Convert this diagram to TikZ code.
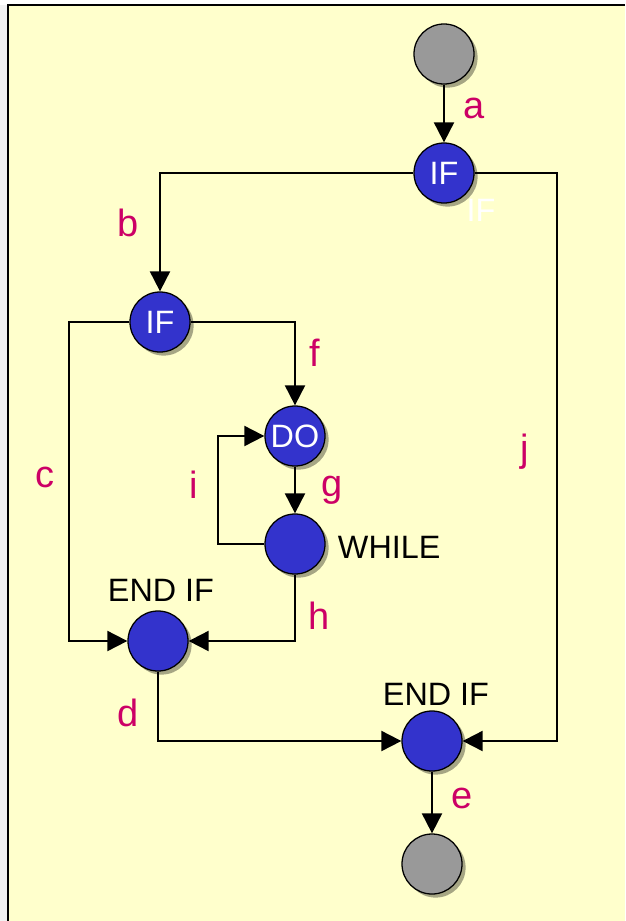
\documentclass[tikz,border=0pt]{standalone}
\usepackage{fontspec}
\setmainfont{Liberation Sans}
\usepackage{xcolor}
\usetikzlibrary{arrows.meta,shadows,calc,positioning}
\definecolor{paper}{HTML}{FFFFCC}
\definecolor{nodeblue}{HTML}{3333CC}
\definecolor{termgray}{HTML}{999999}
\definecolor{edgelabel}{HTML}{CC0066}

\tikzset{
  flownode/.style={draw=black,shape=circle,fill=nodeblue,minimum size=1.5cm,
      line width=0.9pt,inner sep=0,text=white,
      font=\fontsize{23pt}{25pt}\selectfont,
      drop shadow={shadow xshift=0.09cm,shadow yshift=-0.09cm,fill=black,opacity=0.35}},
  termnode/.style={flownode,fill=termgray},
  flow/.style={line width=1.4pt,-{Triangle[length=0.5cm,width=0.5cm]}},
  edgetag/.style={text=edgelabel,font=\fontsize{27pt}{29pt}\selectfont},
  nodetag/.style={font=\fontsize{23pt}{25pt}\selectfont}
}

\begin{document}
\begin{tikzpicture}[x=0.025cm,y=-0.025cm]
                  \useasboundingbox (0,0) rectangle (625,921);
                  % Draw the sheet
                  \fill[white] (0,0) rectangle (625,921);
                  \fill[gray!10] (0,5) rectangle (8,921);
                  \fill[paper] (8,5) rectangle (625,921);
                  \draw[line width=1.3pt] (8,921) -- (8,5) -- (625,5);

                  % Nodes of the flow graph
                  \node[termnode] (start) at (444,54) {};
                  \node[flownode] (if1) at (444,173) {IF};
                  \node[flownode] (if2) at (160,322) {IF};
                  \node[flownode] (do) at (295,436) {DO};
                  \node[flownode] (while) at (295,544) {};
                  \node[flownode] (endif1) at (158,641) {};
                  \node[flownode] (endif2) at (432,741) {};
                  \node[termnode] (stop) at (432,864) {};

                  % Turning points
                  \coordinate (jturn) at (557,173);
                  \coordinate (cturn) at (69,322);
                  \coordinate (iturn) at (218,544);

                  % Edges
                  \draw[flow] (start) -- (if1);
                  \draw[flow] (if1.west) -| (if2.north);
                  \draw[flow] (if1.east) -- (jturn) |- (endif2.east);
                  \draw[flow] (if2.west) -- (cturn) |- (endif1.west);
                  \draw[flow] (if2.east) -| (do.north);
                  \draw[flow] (do) -- (while);
                  \draw[flow] (while.west) -- (iturn) |- (do.west);
                  \draw[flow] (while.south) |- (endif1.east);
                  \draw[flow] (endif1.south) |- (endif2.west);
                  \draw[flow] (endif2) -- (stop);

                  % Label the edges
                  \node[edgetag] (la) at (474,108) {a};
                  \node[edgetag] (lb) at (128,223) {b};
                  \node[edgetag] (lc) at (45,477) {c};
                  \node[edgetag] (ld) at (128,713) {d};
                  \node[edgetag] (le) at (462,798) {e};
                  \node[edgetag] (lf) at (315,353) {f};
                  \node[edgetag] (lg) at (332,490) {g};
                  \node[edgetag] (lh) at (319,616) {h};
                  \node[edgetag] (li) at (194,485) {i};
                  \node[edgetag] (lj) at (525,452) {j};

                  % Label the nodes
                  \node[nodetag,anchor=west] (twhile) at (333,547) {WHILE};
                  \node[nodetag] (tendif1) at (161,590) {END IF};
                  \node[nodetag] (tendif2) at (436,694) {END IF};
                  \node[nodetag,text=white] (tif) at (481,210) {IF};
              \end{tikzpicture}
\end{document}
